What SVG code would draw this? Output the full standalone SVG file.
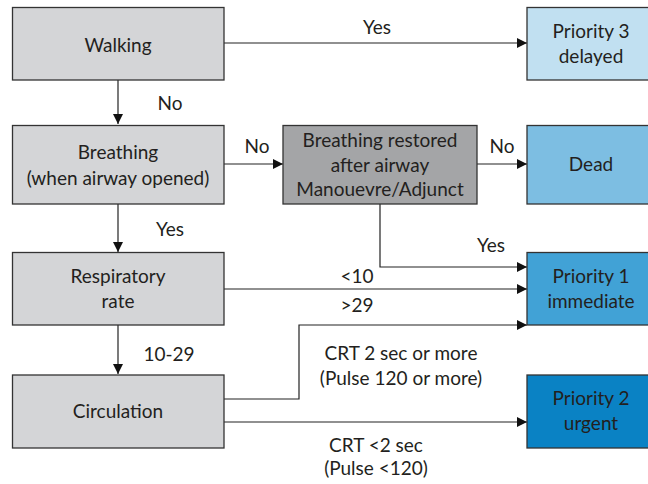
<svg xmlns="http://www.w3.org/2000/svg" width="648" height="484" viewBox="0 0 648 484">
  <defs>
    <marker id="arrow" viewBox="0 0 10 10" refX="10" refY="5" markerWidth="10" markerHeight="10" markerUnits="userSpaceOnUse" orient="auto">
      <path d="M0,0 L10,5 L0,10 z" fill="#111"/>
    </marker>
    <style>
      rect { stroke: #333; stroke-width: 1.3; }
      .step { fill: #d4d5d7; }
      .check { fill: #a4a5a7; }
      .p3 { fill: #c1e0f1; }
      .dead { fill: #7dbee2; }
      .p1 { fill: #41a2d6; }
      .p2 { fill: #0a82c4; }
      text { font-family: Lato, "Open Sans", "Liberation Sans", sans-serif; font-size: 19px; fill: #231f20; text-anchor: middle; }
      .edge { fill: none; stroke: #222; stroke-width: 1.2; marker-end: url(#arrow); }
    </style>
  </defs>

  <rect width="648" height="484" fill="#ffffff" style="stroke:none"/>

  <g id="connectors">
    <path class="edge" d="M224,43 H527"/>
    <path class="edge" d="M118,80 V124"/>
    <path class="edge" d="M224,164 H283"/>
    <path class="edge" d="M477,164 H527"/>
    <path class="edge" d="M118,204 V252"/>
    <path class="edge" d="M380,204 V267 H527"/>
    <path class="edge" d="M224,289 H527"/>
    <path class="edge" d="M118,325 V374"/>
    <path class="edge" d="M224,399 H299 V325 H527"/>
    <path class="edge" d="M224,422 H527"/>
  </g>

  <g id="edge-labels">
    <text x="377" y="34">Yes</text>
    <text x="170" y="110">No</text>
    <text x="257" y="153">No</text>
    <text x="502" y="153">No</text>
    <text x="170" y="236">Yes</text>
    <text x="491" y="252">Yes</text>
    <text x="357" y="283">&lt;10</text>
    <text x="357" y="312">&gt;29</text>
    <text x="169" y="361">10-29</text>
    <text x="401" y="360">CRT 2 sec or more</text>
    <text x="401" y="385">(Pulse 120 or more)</text>
    <text x="376" y="452">CRT &lt;2 sec</text>
    <text x="376" y="475">(Pulse &lt;120)</text>
  </g>

  <g id="walking">
    <rect class="step" x="12.5" y="7.5" width="211.5" height="72.5"/>
    <text x="118" y="52">Walking</text>
  </g>

  <g id="priority3">
    <rect class="p3" x="527" y="7.5" width="125" height="72.5"/>
    <text x="591" y="38">Priority 3</text>
    <text x="591" y="63">delayed</text>
  </g>

  <g id="breathing">
    <rect class="step" x="12.5" y="125.5" width="211.5" height="78.5"/>
    <text x="118" y="159">Breathing</text>
    <text x="118" y="185">(when airway opened)</text>
  </g>

  <g id="restored">
    <rect class="check" x="283" y="125.5" width="194" height="78.5"/>
    <text x="380" y="147">Breathing restored</text>
    <text x="380" y="172">after airway</text>
    <text x="380" y="196">Manouevre/Adjunct</text>
  </g>

  <g id="dead">
    <rect class="dead" x="527" y="125.5" width="125" height="78.5"/>
    <text x="591" y="171">Dead</text>
  </g>

  <g id="respiratory">
    <rect class="step" x="12.5" y="252.5" width="211.5" height="72.5"/>
    <text x="118" y="283">Respiratory</text>
    <text x="118" y="308">rate</text>
  </g>

  <g id="priority1">
    <rect class="p1" x="527" y="252.5" width="125" height="72.5"/>
    <text x="591" y="283">Priority 1</text>
    <text x="591" y="308">immediate</text>
  </g>

  <g id="circulation">
    <rect class="step" x="12.5" y="375" width="211.5" height="73"/>
    <text x="118" y="418">Circulation</text>
  </g>

  <g id="priority2">
    <rect class="p2" x="527" y="375" width="125" height="73"/>
    <text x="591" y="405">Priority 2</text>
    <text x="591" y="430">urgent</text>
  </g>
</svg>
